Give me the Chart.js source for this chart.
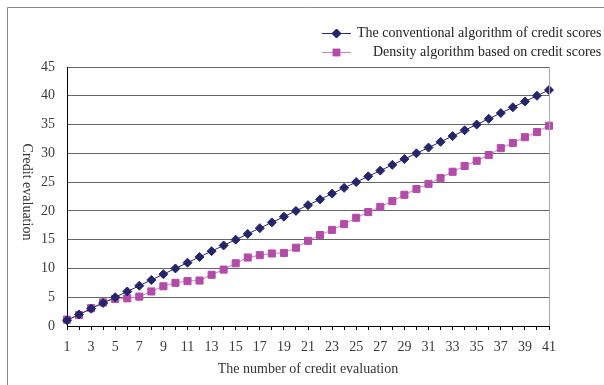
<!DOCTYPE html>
<html>
<head>
<meta charset="utf-8">
<script src="https://cdn.jsdelivr.net/npm/chart.js@4/dist/chart.umd.min.js"></script>
<style>
  html, body { margin: 0; padding: 0; background: #fff; overflow: hidden; }
  #wrap { width: 604px; height: 385px; position: relative; }
</style>
</head>
<body>
<div id="wrap"><canvas id="chart" width="604" height="385"></canvas></div>
<script>
// categories 1..41
const labels = ["1","2","3","4","5","6","7","8","9","10","11","12","13","14","15","16","17","18","19","20",
  "21","22","23","24","25","26","27","28","29","30","31","32","33","34","35","36","37","38","39","40","41"];

const conventional = [1,2,3,4,5,6,7,8,9,10,11,12,13,14,15,16,17,18,19,20,
  21,22,23,24,25,26,27,28,29,30,31,32,33,34,35,36,37,38,39,40,41];

const density = [1.1,1.9,3.1,4.1,4.7,4.8,5.1,6.0,6.9,7.5,7.8,7.9,8.9,9.8,10.9,11.9,12.3,12.6,12.7,13.6,
  14.8,15.8,16.7,17.7,18.8,19.8,20.7,21.7,22.8,23.8,24.7,25.7,26.8,27.8,28.7,29.7,30.9,31.8,32.8,33.7,34.8];

const seriesNames = ["The conventional algorithm of credit scores", "Density algorithm based on credit scores"];
const yTicks = [0, 5, 10, 15, 20, 25, 30, 35, 40, 45];

const serif = "'Liberation Serif', 'DejaVu Serif', serif";

// outer frame, plot right border, rotated y title, x title, legend
const extras = {
  id: "extras",
  beforeDraw(chart) {
    const ctx = chart.ctx;
    ctx.save();
    ctx.strokeStyle = "#8a8a8a";
    ctx.lineWidth = 1;
    ctx.beginPath();
    ctx.moveTo(7.5, 400);
    ctx.lineTo(7.5, 7.5);
    ctx.lineTo(620, 7.5);
    ctx.stroke();
    ctx.restore();
  },
  afterDraw(chart) {
    const ctx = chart.ctx;
    const a = chart.chartArea;
    ctx.save();
    ctx.strokeStyle = "#a8a8a8";
    ctx.lineWidth = 1;
    ctx.beginPath();
    ctx.moveTo(Math.round(a.right) + 0.5, a.top);
    ctx.lineTo(Math.round(a.right) + 0.5, a.bottom);
    ctx.stroke();

    ctx.fillStyle = "#333";
    ctx.font = "14px " + serif;
    ctx.textAlign = "center";
    ctx.textBaseline = "middle";
    ctx.save();
    ctx.translate(27, 192);
    ctx.rotate(Math.PI / 2);
    ctx.fillText("Credit evaluation", 0, 0);
    ctx.restore();
    ctx.fillText("The number of credit evaluation", (a.left + a.right) / 2, 369);

    // legend
    const rows = [{ y: 33.5, tx: 357 }, { y: 52.5, tx: 373 }];
    chart.data.datasets.forEach((ds, i) => {
      const r = rows[i];
      ctx.strokeStyle = ds.borderColor;
      ctx.lineWidth = 1;
      ctx.beginPath();
      ctx.moveTo(322, r.y);
      ctx.lineTo(351, r.y);
      ctx.stroke();
      Chart.helpers.drawPoint(ctx, {
        pointStyle: ds.pointStyle, radius: ds.pointRadius, borderWidth: 1
      }, 336.5, r.y);
      ctx.fillStyle = ds.pointBackgroundColor;
      ctx.fill();
      ctx.fillStyle = "#222";
      ctx.font = "14px " + serif;
      ctx.textAlign = "left";
      ctx.fillText(ds.label, r.tx, r.y);
    });
    ctx.restore();
  }
};

new Chart(document.getElementById("chart"), {
  type: "line",
  data: {
    labels: labels,
    datasets: [{
      label: seriesNames[0],
      data: conventional,
      borderColor: "#2a2a70",
      borderWidth: 1,
      pointStyle: "rectRot",
      pointRadius: 4.5,
      pointBackgroundColor: "#25256b",
      pointBorderColor: "#25256b",
      pointBorderWidth: 1,
      tension: 0
    }, {
      label: seriesNames[1],
      data: density,
      borderColor: "#d07cc6",
      borderWidth: 1,
      pointStyle: "rect",
      pointRadius: 5,
      pointBackgroundColor: "#b24ca8",
      pointBorderColor: "#b24ca8",
      pointBorderWidth: 1,
      tension: 0
    }]
  },
  options: {
    responsive: false,
    animation: false,
    layout: { padding: { left: 0, top: 67, right: 55, bottom: 0 } },
    plugins: { legend: { display: false }, tooltip: { enabled: false } },
    scales: {
      x: {
        grid: { drawOnChartArea: false, drawTicks: true, tickLength: 4, color: "#000" },
        border: { color: "#000" },
        ticks: {
          autoSkip: false, maxRotation: 0, padding: 9,
          color: "#3a3a3a",
          font: { family: serif, size: 14 },
          callback: (v, i) => (i % 2 === 0 ? labels[i] : "")
        },
        afterFit: s => { s.height = 59; }
      },
      y: {
        min: 0, max: 45,
        afterBuildTicks: s => { s.ticks = yTicks.map(v => ({ value: v })); },
        grid: { color: "#666", drawTicks: false },
        border: { color: "#000" },
        ticks: {
          padding: 12,
          color: "#3a3a3a",
          font: { family: serif, size: 14 }
        },
        afterFit: s => { s.width = 67; }
      }
    }
  },
  plugins: [extras]
});
</script>
</body>
</html>
